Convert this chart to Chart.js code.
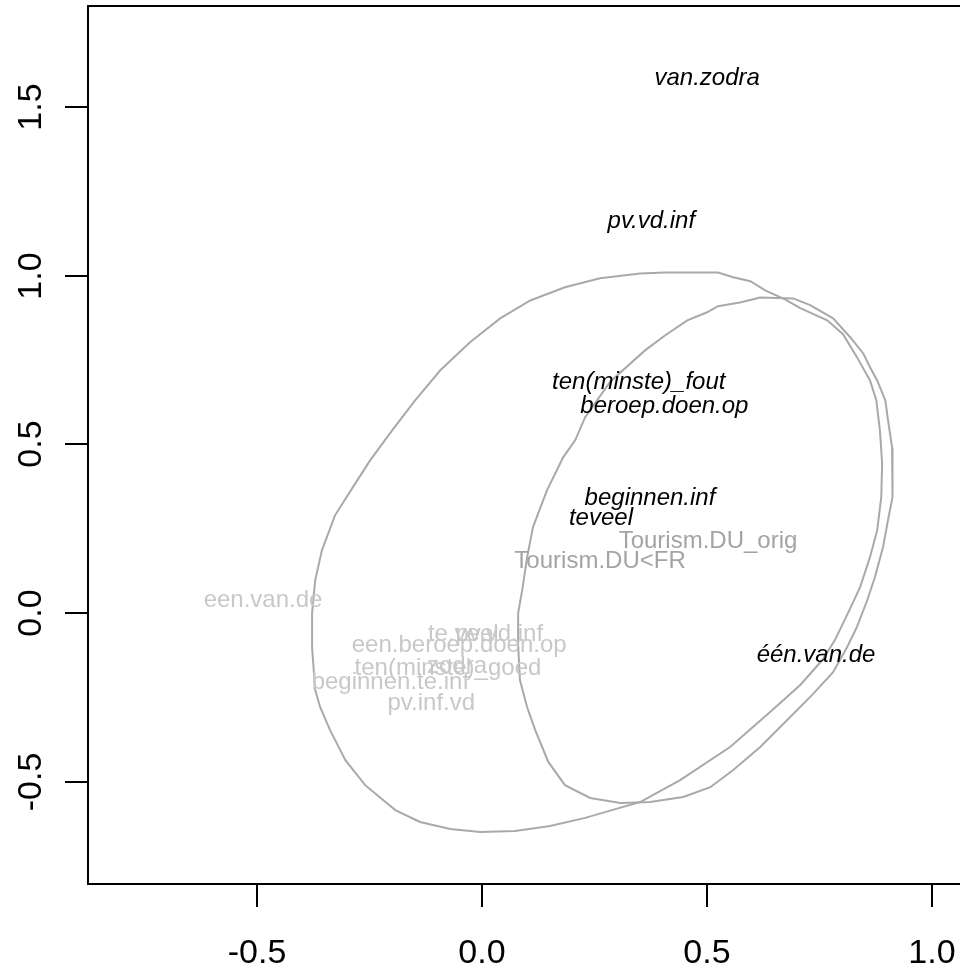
<!DOCTYPE html>
<html>
<head>
<meta charset="utf-8">
<script src="https://cdn.jsdelivr.net/npm/chart.js@4"></script>
<style>
  body { margin: 0; background: #fff; }
  canvas { display: block; }
</style>
</head>
<body>
<canvas id="canvas" width="960" height="968"></canvas>
<script>

// black italic labels
let colLabels = ['van.zodra', 'pv.vd.inf', 'ten(minste)_fout', 'beroep.doen.op', 'beginnen.inf', 'teveel', 'één.van.de'];
let colX = [0.500, 0.376, 0.348, 0.405, 0.373, 0.264, 0.742];
let colY = [1.590, 1.166, 0.690, 0.618, 0.345, 0.286, -0.120];

// light grey labels
let rowLabels = ['een.van.de', 'te.veel', 'pv.vd.inf', 'een.beroep.doen.op', 'ten(minste)_goed', 'zodra', 'beginnen.te.inf', 'pv.inf.vd'];
let rowX = [-0.487, -0.042, 0.038, -0.051, -0.076, -0.056, -0.204, -0.113];
let rowY = [0.044, -0.056, -0.056, -0.090, -0.157, -0.152, -0.198, -0.261];

// darker grey labels
let groupLabels = ['Tourism.DU_orig', 'Tourism.DU<FR'];
let groupX = [0.502, 0.262];
let groupY = [0.218, 0.159];

// ellipse around Tourism.DU<FR
let ellAX = [0.351, 0.407, 0.524, 0.558, 0.596, 0.629, 0.673, 0.707, 0.767, 0.802, 0.833, 0.862, 0.876, 0.884, 0.889, 0.887, 0.878, 0.862, 0.840, 0.813, 0.784, 0.756, 0.707, 0.640, 0.551, 0.440, 0.351, 0.296, 0.229, 0.151, 0.073, -0.004, -0.071, -0.138, -0.193, -0.260, -0.304, -0.338, -0.360, -0.371, -0.378, -0.378, -0.371, -0.356, -0.327, -0.289, -0.249, -0.200, -0.149, -0.093, -0.027, 0.040, 0.107, 0.184, 0.262];
let ellAY = [1.007, 1.010, 1.010, 0.996, 0.984, 0.957, 0.930, 0.904, 0.868, 0.827, 0.759, 0.690, 0.631, 0.542, 0.444, 0.344, 0.246, 0.166, 0.077, 0.000, -0.080, -0.139, -0.213, -0.293, -0.397, -0.495, -0.560, -0.581, -0.607, -0.631, -0.646, -0.649, -0.640, -0.619, -0.584, -0.510, -0.436, -0.347, -0.279, -0.228, -0.101, 0.000, 0.098, 0.187, 0.290, 0.370, 0.453, 0.542, 0.631, 0.720, 0.803, 0.874, 0.927, 0.966, 0.993];

// ellipse around Tourism.DU_orig
let ellBX = [0.618, 0.691, 0.729, 0.780, 0.818, 0.847, 0.862, 0.878, 0.896, 0.902, 0.911, 0.913, 0.911, 0.902, 0.891, 0.873, 0.856, 0.833, 0.811, 0.780, 0.733, 0.678, 0.618, 0.558, 0.507, 0.447, 0.373, 0.307, 0.240, 0.184, 0.147, 0.118, 0.100, 0.084, 0.080, 0.080, 0.089, 0.100, 0.113, 0.144, 0.180, 0.207, 0.229, 0.285, 0.362, 0.407, 0.456, 0.500, 0.524, 0.573];
let ellBY = [0.936, 0.933, 0.913, 0.874, 0.818, 0.770, 0.729, 0.690, 0.631, 0.572, 0.492, 0.433, 0.344, 0.276, 0.196, 0.107, 0.039, -0.041, -0.101, -0.175, -0.243, -0.317, -0.397, -0.465, -0.516, -0.545, -0.560, -0.563, -0.548, -0.510, -0.441, -0.347, -0.279, -0.199, -0.095, 0.000, 0.068, 0.166, 0.255, 0.364, 0.462, 0.513, 0.581, 0.687, 0.779, 0.824, 0.868, 0.892, 0.910, 0.921];

let xTicks = [-0.5, 0.0, 0.5, 1.0];
let xTickLabels = ['-0.5', '0.0', '0.5', '1.0'];
let yTicks = [-0.5, 0.0, 0.5, 1.0, 1.5];
let yTickLabels = ['-0.5', '0.0', '0.5', '1.0', '1.5'];

function points(xs, ys){
    let out = [];
    for(let i = 0;i<xs.length;i++){
        out.push({x: xs[i], y: ys[i]});
    }
    return out;
}

function closed(xs, ys){
    let out = points(xs, ys);
    out.push({x: xs[0], y: ys[0]});
    return out;
}

let labelSets = [
    {labels: colLabels, font: 'italic 24px "Liberation Sans", Arial, sans-serif', color: '#000000'},
    {labels: rowLabels, font: '24px "Liberation Sans", Arial, sans-serif', color: '#c8c8c8'},
    {labels: groupLabels, font: '24px "Liberation Sans", Arial, sans-serif', color: '#a4a4a4'}
];

let textPlugin = {
    id: 'textLabels',
    afterDatasetsDraw(chart){
        let ctx = chart.ctx;
        ctx.save();
        ctx.textAlign = 'center';
        ctx.textBaseline = 'alphabetic';
        for(let d = 0;d<labelSets.length;d++){
            let meta = chart.getDatasetMeta(d);
            ctx.font = labelSets[d].font;
            ctx.fillStyle = labelSets[d].color;
            for(let i = 0;i<meta.data.length;i++){
                let el = meta.data[i];
                ctx.fillText(labelSets[d].labels[i], el.x, el.y + 8.6);
            }
        }
        ctx.restore();
    }
};

let axisPlugin = {
    id: 'rAxes',
    afterDraw(chart){
        let ctx = chart.ctx;
        let area = chart.chartArea;
        let xs = chart.scales.x;
        let ys = chart.scales.y;
        ctx.save();
        ctx.strokeStyle = '#000';
        ctx.lineWidth = 2;
        ctx.beginPath();
        ctx.moveTo(chart.width + 5, area.top);
        ctx.lineTo(area.left, area.top);
        ctx.lineTo(area.left, area.bottom);
        ctx.lineTo(chart.width + 5, area.bottom);
        ctx.stroke();

        ctx.fillStyle = '#000';
        ctx.font = '34px "Liberation Sans", Arial, sans-serif';
        ctx.textAlign = 'center';
        ctx.textBaseline = 'alphabetic';
        for(let i = 0;i<xTicks.length;i++){
            let px = Math.round(xs.getPixelForValue(xTicks[i]));
            ctx.beginPath();
            ctx.moveTo(px, area.bottom);
            ctx.lineTo(px, area.bottom + 23);
            ctx.stroke();
            ctx.fillText(xTickLabels[i], px, area.bottom + 79);
        }
        for(let i = 0;i<yTicks.length;i++){
            let py = Math.round(ys.getPixelForValue(yTicks[i]));
            ctx.beginPath();
            ctx.moveTo(area.left, py);
            ctx.lineTo(area.left - 23, py);
            ctx.stroke();
            ctx.save();
            ctx.translate(area.left - 47, py);
            ctx.rotate(-Math.PI / 2);
            ctx.fillText(yTickLabels[i], 0, 0);
            ctx.restore();
        }
        ctx.restore();
    }
};

let ellipseStyle = {
    showLine: true,
    fill: false,
    pointRadius: 0,
    pointHoverRadius: 0,
    borderColor: '#a9a9a9',
    borderWidth: 2,
    tension: 0
};

let options = {
    type: 'scatter',
    data: {
        datasets: [
            {data: points(colX, colY), pointRadius: 0, pointHoverRadius: 0},
            {data: points(rowX, rowY), pointRadius: 0, pointHoverRadius: 0},
            {data: points(groupX, groupY), pointRadius: 0, pointHoverRadius: 0},
            Object.assign({data: closed(ellAX, ellAY)}, ellipseStyle),
            Object.assign({data: closed(ellBX, ellBY)}, ellipseStyle)
        ]
    },
    options: {
        responsive: false,
        animation: false,
        devicePixelRatio: 1,
        layout: {padding: {left: 88, top: 6, right: 0, bottom: 84}},
        plugins: {legend: {display: false}, tooltip: {enabled: false}},
        scales: {
            x: {type: 'linear', min: -0.876, max: 1.062, display: false},
            y: {type: 'linear', min: -0.803, max: 1.80, display: false}
        }
    },
    plugins: [textPlugin, axisPlugin]
};

let chart = new Chart(document.getElementById('canvas'), options);

</script>
</body>
</html>
